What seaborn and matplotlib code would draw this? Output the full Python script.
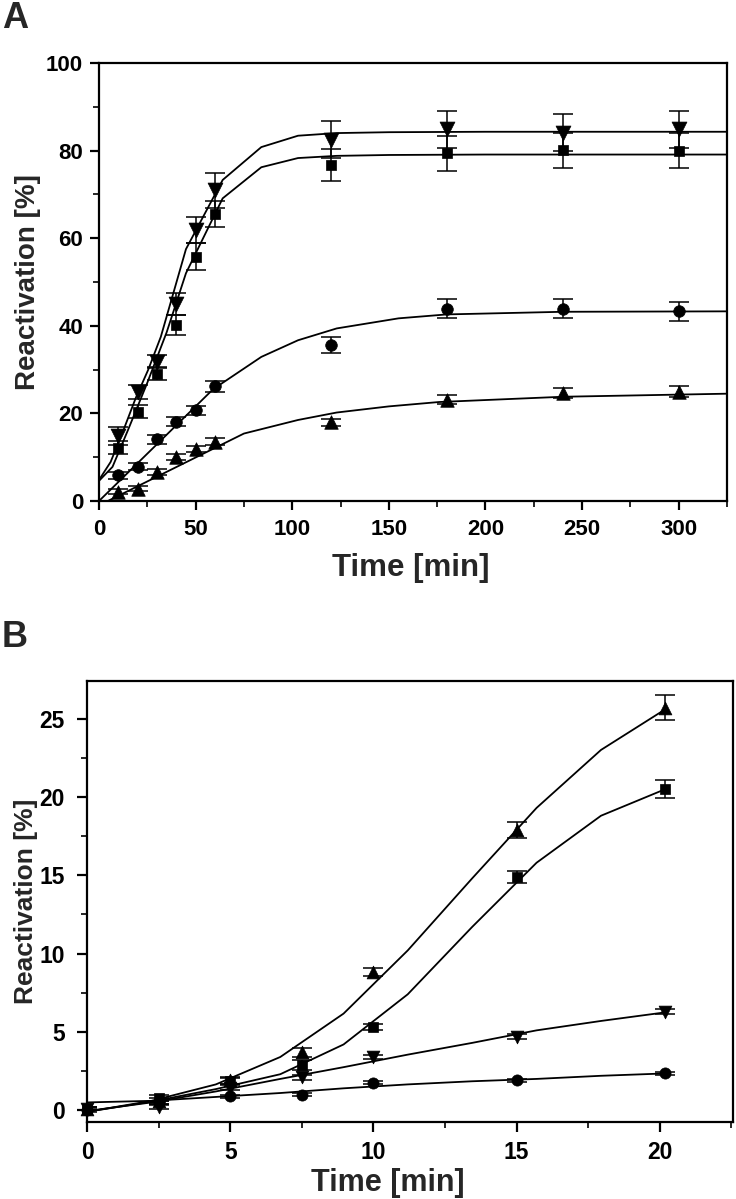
import matplotlib
matplotlib.use("Agg")
import pandas as pd
import matplotlib.pyplot as plt
import seaborn as sns
from matplotlib.ticker import MultipleLocator

# ---- panel A: measured points ----
time_a = [10, 20, 30, 40, 50, 60, 120, 180, 240, 300]
square_a = [12.2, 20.4, 29.1, 40.2, 55.8, 65.5, 76.7, 79.4, 80.1, 80.0]
square_a_err = [1.5, 1.5, 1.5, 2.3, 3.0, 3.0, 3.7, 4.0, 4.0, 4.0]
invtri_a = [14.8, 24.9, 31.8, 45.0, 61.9, 71.0, 82.5, 84.9, 84.1, 84.9]
invtri_a_err = [2.0, 1.5, 1.5, 2.5, 3.0, 4.0, 4.2, 4.2, 4.2, 4.2]
circle_a = [5.9, 7.8, 14.1, 18.1, 20.7, 26.2, 35.6, 43.9, 43.9, 43.3]
circle_a_err = [0.8, 0.8, 1.0, 1.0, 1.0, 1.2, 1.8, 2.2, 2.2, 2.2]
tri_a = [2.1, 2.8, 6.6, 10.0, 11.8, 13.5, 18.0, 23.1, 24.7, 25.0]
tri_a_err = [0.6, 0.6, 0.7, 0.7, 0.7, 0.8, 0.8, 1.0, 1.2, 1.2]

# ---- panel A: fitted curves ----
fit_sq_a_t = [0, 7, 15, 25, 35, 45, 64, 84, 103, 123, 150, 200, 325]
fit_sq_a = [4.6, 7.8, 16.2, 27.0, 38.5, 52.0, 69.1, 76.2, 78.3, 78.8, 79.0, 79.1, 79.1]
fit_inv_a_t = [0, 6, 12.5, 19, 25.5, 32, 45, 64, 84, 103, 123, 150, 200, 325]
fit_inv_a = [4.8, 8.9, 16.0, 23.5, 30.0, 37.5, 57.5, 73.3, 80.8, 83.4, 84.0, 84.2, 84.3, 84.3]
fit_circ_a_t = [0, 59, 84, 103, 123, 155, 180, 240, 325]
fit_circ_a = [0, 25.5, 32.9, 36.7, 39.4, 41.7, 42.6, 43.2, 43.3]
fit_tri_a_t = [0, 75, 103, 123, 150, 176, 240, 325]
fit_tri_a = [-1.0, 15.4, 18.5, 20.2, 21.6, 22.6, 23.8, 24.5]

# ---- panel B: measured points ----
time_b = [0, 2.5, 5, 7.5, 10, 15, 20.2]
tri_b = [0.1, 0.6, 1.9, 3.7, 8.8, 17.9, 25.7]
tri_b_err = [0.1, 0.2, 0.2, 0.3, 0.25, 0.5, 0.8]
square_b = [0.1, 0.8, 1.85, 2.9, 5.3, 14.9, 20.5]
square_b_err = [0.1, 0.2, 0.2, 0.3, 0.2, 0.4, 0.6]
invtri_b = [0.1, 0.2, 1.45, 2.1, 3.4, 4.7, 6.3]
invtri_b_err = [0.1, 0.15, 0.15, 0.15, 0.15, 0.15, 0.15]
circle_b = [0.0, 0.5, 0.9, 1.0, 1.75, 1.9, 2.35]
circle_b_err = [0.1, 0.1, 0.1, 0.1, 0.1, 0.1, 0.1]

# ---- panel B: fitted curves ----
fit_t_b = [0, 2.25, 4.5, 6.75, 8.96, 11.2, 13.45, 15.7, 17.95, 20.2]
fit_tri_b = [-0.1, 0.6, 1.65, 3.4, 6.17, 10.2, 14.8, 19.3, 23.0, 25.6]
fit_sq_b = [-0.1, 0.55, 1.35, 2.3, 4.2, 7.4, 11.7, 15.8, 18.8, 20.5]
fit_inv_b = [-0.05, 0.5, 1.2, 2.0, 2.75, 3.55, 4.3, 5.1, 5.7, 6.25]
fit_circ_b = [0.5, 0.6, 0.85, 1.1, 1.4, 1.65, 1.85, 2.0, 2.2, 2.35]

sns.set_style("ticks")
plt.rcParams['font.family'] = ['Liberation Sans', 'DejaVu Sans']
plt.rcParams['font.weight'] = 'bold'

fig = plt.figure(figsize=(7.36, 11.99), dpi=100)
ax_a = fig.add_axes([99 / 736, 1 - 501 / 1199, 628 / 736, 438 / 1199])
ax_b = fig.add_axes([87 / 736, 1 - 1122 / 1199, 646 / 736, 441 / 1199])


def draw_series(ax, t, y, err, fit_t, fit_y, marker, size):
    sns.lineplot(x=fit_t, y=fit_y, ax=ax, color='black', linewidth=1.3,
                 sort=False, estimator=None, zorder=2)
    ax.errorbar(t, y, yerr=err, fmt='none', ecolor='black', elinewidth=1.1,
                capsize=7, capthick=1.1, zorder=3)
    sns.scatterplot(x=t, y=y, ax=ax, marker=marker, s=size, color='black',
                    edgecolor='black', linewidth=0.5, zorder=4, clip_on=False)


# panel A
draw_series(ax_a, time_a, square_a, square_a_err, fit_sq_a_t, fit_sq_a, 's', 55)
draw_series(ax_a, time_a, invtri_a, invtri_a_err, fit_inv_a_t, fit_inv_a, 'v', 115)
draw_series(ax_a, time_a, circle_a, circle_a_err, fit_circ_a_t, fit_circ_a, 'o', 70)
draw_series(ax_a, time_a, tri_a, tri_a_err, fit_tri_a_t, fit_tri_a, '^', 95)

ax_a.set_xlim(0, 325)
ax_a.set_ylim(0, 100)
ax_a.xaxis.set_major_locator(MultipleLocator(50))
ax_a.xaxis.set_minor_locator(MultipleLocator(25))
ax_a.yaxis.set_major_locator(MultipleLocator(20))
ax_a.yaxis.set_minor_locator(MultipleLocator(10))
ax_a.set_xlabel("Time [min]", fontsize=22.5, fontweight='bold')
ax_a.set_ylabel("Reactivation [%]", fontsize=20, fontweight='bold')
ax_a.xaxis.set_label_coords(0.497, -0.118)
ax_a.yaxis.set_label_coords(-0.092, 0.5)

# panel B
draw_series(ax_b, time_b, tri_b, tri_b_err, fit_t_b, fit_tri_b, '^', 85)
draw_series(ax_b, time_b, square_b, square_b_err, fit_t_b, fit_sq_b, 's', 50)
draw_series(ax_b, time_b, invtri_b, invtri_b_err, fit_t_b, fit_inv_b, 'v', 85)
draw_series(ax_b, time_b, circle_b, circle_b_err, fit_t_b, fit_circ_b, 'o', 65)

ax_b.set_xlim(0, 22.56)
ax_b.set_ylim(-0.75, 27.4)
ax_b.xaxis.set_major_locator(MultipleLocator(5))
ax_b.xaxis.set_minor_locator(MultipleLocator(2.5))
ax_b.yaxis.set_major_locator(MultipleLocator(5))
ax_b.yaxis.set_minor_locator(MultipleLocator(2.5))
ax_b.set_xlabel("Time [min]", fontsize=22, fontweight='bold')
ax_b.set_ylabel("Reactivation [%]", fontsize=19, fontweight='bold')
ax_b.xaxis.set_label_coords(0.466, -0.104)
ax_b.yaxis.set_label_coords(-0.076, 0.5)

for side in ['top', 'right', 'bottom', 'left']:
    for ax in (ax_a, ax_b):
        ax.spines[side].set_visible(True)
        ax.spines[side].set_linewidth(1.6)
        ax.spines[side].set_color('black')

ax_a.tick_params(which='major', direction='out', length=6.5, width=1.6,
                 labelsize=16, colors='black')
ax_a.tick_params(axis='x', which='major', pad=6.5)
ax_a.tick_params(axis='y', which='major', pad=5)
ax_a.tick_params(which='minor', direction='out', length=4, width=1.4)

ax_b.tick_params(which='major', direction='out', length=7, width=1.6,
                 labelsize=16.5, colors='black')
ax_b.tick_params(axis='x', which='major', pad=7)
ax_b.tick_params(axis='y', which='major', pad=9)
ax_b.tick_params(which='minor', direction='out', length=4.5, width=1.4)

for ax in (ax_a, ax_b):
    ax.tick_params(top=False, right=False, which='both')
    for lab in ax.get_xticklabels() + ax.get_yticklabels():
        lab.set_fontweight('bold')

fig.text(2 / 736, 1 - 18 / 1199, "A", fontsize=26, fontweight='bold', va='center')
fig.text(2 / 736, 1 - 637 / 1199, "B", fontsize=26, fontweight='bold', va='center')

fig.savefig("out.png", dpi=100)
plt.close(fig)
